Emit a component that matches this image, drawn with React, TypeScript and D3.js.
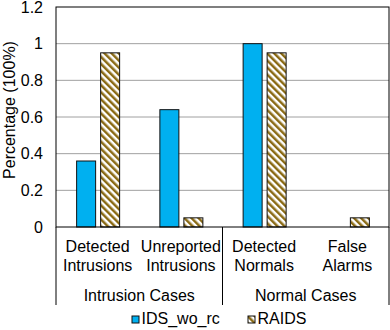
import React from 'react';
import * as d3 from 'd3';

const categories = ['Detected Intrusions', 'Unreported Intrusions', 'Detected Normals', 'False Alarms'];
const groups = ['Intrusion Cases', 'Normal Cases'];
const seriesNames = ['IDS_wo_rc', 'RAIDS'];
const idsWoRc = [0.36, 0.64, 1.0, 0];
const raids = [0.95, 0.05, 0.95, 0.05];
const yTicks = [0, 0.2, 0.4, 0.6, 0.8, 1, 1.2];

const W = 390;
const H = 330;
const margin = { top: 7, right: 1, bottom: 103, left: 56 };
const font = '"Liberation Sans", Arial, sans-serif';

const App = () => {
  const x0 = d3.scaleBand().domain(categories).range([margin.left, W - margin.right]);
  const x1 = d3.scaleBand().domain(seriesNames).range([-21, 22]).paddingInner(5 / 24);
  const y = d3.scaleLinear().domain([0, 1.2]).range([H - margin.bottom, margin.top]);
  const values = [idsWoRc, raids];
  const fills = ['#00B0F0', 'url(#hatch)'];
  const base = y(0);
  const groupW = (W - margin.right - margin.left) / groups.length;

  return (
    <svg width={W} height={H} style={{ position: 'absolute', left: 0, top: 0 }} fontFamily={font}>
      <defs>
        <pattern id="hatch" patternUnits="userSpaceOnUse" width="5" height="5" patternTransform="rotate(-45)">
          <rect width="5" height="5" fill="#fff" />
          <rect width="2.5" height="5" fill="#8A6A14" />
        </pattern>
      </defs>
      {yTicks.map(t => (
        <g key={t}>
          {t > 0 && t < 1.2 && (
            <line x1={margin.left} x2={W - margin.right} y1={y(t)} y2={y(t)} stroke="#A0A0A0" strokeWidth={1} />
          )}
          <text x={43} y={y(t) + 5.5} textAnchor="end" fontSize={16}>{d3.format('~g')(t)}</text>
        </g>
      ))}
      <text transform={`translate(15,110) rotate(-90)`} textAnchor="middle" fontSize={16}>Percentage (100%)</text>
      {categories.map((c, i) => (
        <g key={c}>
          {seriesNames.map((s, j) => {
            const bx = x0(c)! + x0.bandwidth() / 2 + x1(s)!;
            const by = y(values[j][i]);
            if (values[j][i] <= 0) return null;
            return (
              <rect key={s} x={bx} y={by} width={x1.bandwidth()} height={base - by}
                fill={fills[j]} stroke="#111" strokeWidth={1} />
            );
          })}
          {c.split(' ').map((w, k) => (
            <text key={w} x={x0(c)! + x0.bandwidth() / 2} y={251.5 + k * 19} textAnchor="middle" fontSize={16}>{w}</text>
          ))}
        </g>
      ))}
      <rect x={margin.left} y={margin.top} width={W - margin.right - margin.left} height={base - margin.top}
        fill="none" stroke="#000" strokeWidth={1} />
      {[0, 1, 2].map(k => (
        <line key={k} x1={margin.left + k * groupW} x2={margin.left + k * groupW} y1={base} y2={305} stroke="#000" strokeWidth={1} />
      ))}
      {groups.map((g, k) => (
        <text key={g} x={margin.left + (k + 0.5) * groupW} y={301} textAnchor="middle" fontSize={16}>{g}</text>
      ))}
      {seriesNames.map((s, j) => (
        <g key={s} transform={`translate(${[132, 248][j]},0)`}>
          <rect x={0} y={316} width={7} height={7} fill={fills[j]} stroke="#111" strokeWidth={1} />
          <text x={9.5} y={324} fontSize={16}>{s}</text>
        </g>
      ))}
    </svg>
  );
};

export default App;
